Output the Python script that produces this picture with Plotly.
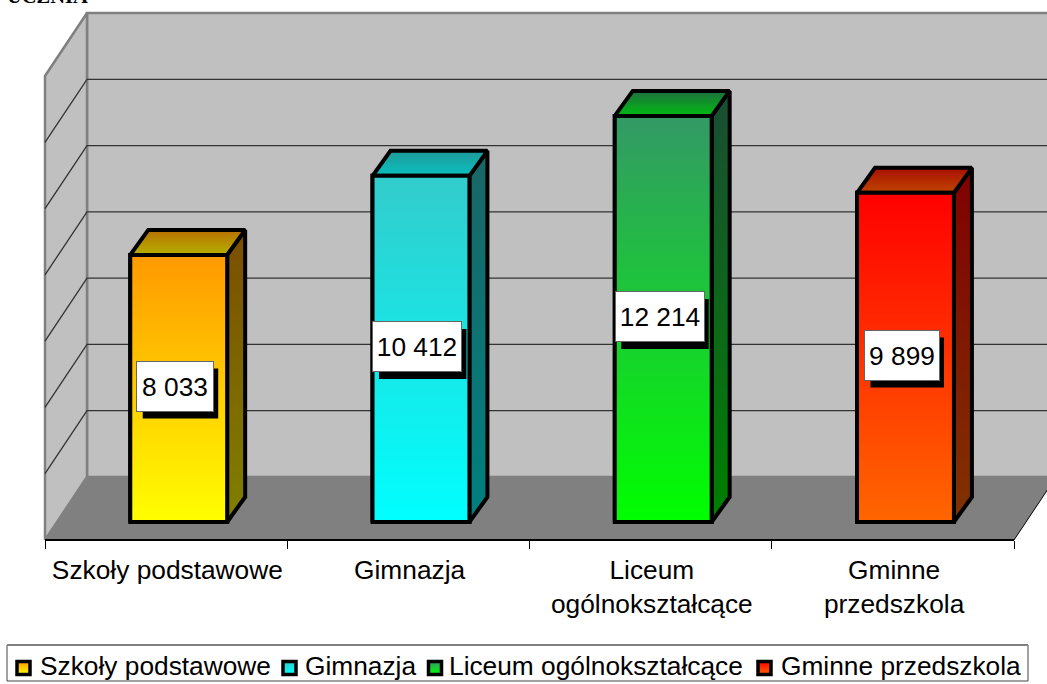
import plotly.graph_objects as go

# ---- data ----
categories = ["Szkoły podstawowe", "Gimnazja", "Liceum ogólnokształcące", "Gminne przedszkola"]
tick_labels = ["Szkoły podstawowe", "Gimnazja", "Liceum<br>ogólnokształcące", "Gminne<br>przedszkola"]
values = [8033, 10412, 12214, 9899]
value_labels = ["8 033", "10 412", "12 214", "9 899"]
grid_values = [2000, 4000, 6000, 8000, 10000, 12000]
axis_max = 14000
title_fragment = "UCZNIA"

# ---- colours ----
front_top = ["#ff9900", "#33cccc", "#339966", "#ff0000"]
front_bottom = ["#ffff00", "#00ffff", "#00ff00", "#ff6600"]
side_top = ["#7a4e00", "#1a6666", "#1a4d33", "#800000"]
side_bottom = ["#808000", "#008080", "#008000", "#803300"]
cap_back = ["#b97000", "#1f9a9a", "#1f6f3f", "#a81000"]
cap_front = ["#b4b000", "#0abfbf", "#00bb11", "#c04500"]
mid_colour = ["#ffcc00", "#1ae6e6", "#1acc33", "#ff3300"]
swatch_x = [23.5, 289.5, 435, 764.5]
legend_text_x = [38, 303, 447, 778.5]
label_box_width = [76, 88, 88, 74]

# ---- layout geometry ----
W, H = 1047, 684
X0, UNIT = 45.0, 242.25       # px of category 0, px per category
WALL_Y0, WALL_K = 477.0, 464.0 / axis_max
BAR_Y0, BAR_K = 522.0, 0.03325
BAR_CENTRE, BAR_WIDTH = 0.552, 0.40
DEPTH_X, DEPTH_V = 18.0 / UNIT, 25.0 / BAR_K
WALL_DX, WALL_DV = 42.0 / UNIT, 63.0 / WALL_K
x_left, x_right = 0.0, 4.0
x_back_left, x_back_right = x_left + WALL_DX, x_right + WALL_DX
GREY, LIGHT, DARK = "#808080", "#c0c0c0", "#808080"
FONT = "Liberation Sans"
FS = 26.3


def vgrad(colour_low, colour_high, lo, hi):
    return dict(type="vertical", start=lo, stop=hi,
                colorscale=[[0, colour_low], [1, colour_high]])


fig = go.Figure()
wall = dict(xaxis="x", yaxis="y", mode="lines", hoverinfo="skip", showlegend=False)

# back wall
fig.add_trace(go.Scatter(
    x=[x_back_left, x_back_right, x_back_right, x_back_left, x_back_left],
    y=[0, 0, axis_max, axis_max, 0], fill="toself", fillcolor=LIGHT,
    line=dict(color=GREY, width=2.5), **wall))
# side wall
fig.add_trace(go.Scatter(
    x=[x_left, x_back_left, x_back_left, x_left, x_left],
    y=[-WALL_DV, 0, axis_max, axis_max - WALL_DV, -WALL_DV], fill="toself", fillcolor=LIGHT,
    line=dict(color=GREY, width=2.5), **wall))
# floor
fig.add_trace(go.Scatter(
    x=[x_left, x_back_left, x_back_right, x_right, x_left],
    y=[-WALL_DV, 0, 0, -WALL_DV, -WALL_DV], fill="toself", fillcolor=DARK,
    line=dict(color=DARK, width=0), **wall))
fig.add_trace(go.Scatter(
    x=[x_right, x_back_right], y=[-WALL_DV, 0],
    line=dict(color="#000000", width=1), **wall))
# gridlines
for g in grid_values:
    fig.add_trace(go.Scatter(
        x=[x_left, x_back_left, x_back_right],
        y=[g - WALL_DV, g, g], line=dict(color="#333333", width=1.3), **wall))

# bars
bar_x = [i + BAR_CENTRE for i in range(len(values))]
fig.add_trace(go.Bar(
    x=bar_x, y=values, width=BAR_WIDTH, xaxis="x2", yaxis="y2",
    marker=dict(color=mid_colour, line=dict(color="#000000", width=4)),
    customdata=categories, hovertemplate="%{customdata}: %{y}<extra></extra>", showlegend=False))

face = dict(xaxis="x2", yaxis="y2", mode="lines", fill="toself", hoverinfo="skip",
            showlegend=False, line=dict(color="#000000", width=4))
for i, v in enumerate(values):
    l, r = bar_x[i] - BAR_WIDTH / 2, bar_x[i] + BAR_WIDTH / 2
    # side
    fig.add_trace(go.Scatter(
        x=[r, r + DEPTH_X, r + DEPTH_X, r, r],
        y=[0, DEPTH_V, v + DEPTH_V, v, 0],
        fillgradient=vgrad(side_bottom[i], side_top[i], 0, v + DEPTH_V), **face))
    # top
    fig.add_trace(go.Scatter(
        x=[l, l + DEPTH_X, r + DEPTH_X, r, l],
        y=[v, v + DEPTH_V, v + DEPTH_V, v, v],
        fillgradient=vgrad(cap_front[i], cap_back[i], v, v + DEPTH_V), **face))
    # front
    fig.add_trace(go.Scatter(
        x=[l, r, r, l, l], y=[0, 0, v, v, 0],
        fillgradient=vgrad(front_bottom[i], front_top[i], 0, v), **face))

# legend swatches (drawn on the pixel-aligned hidden axes)
LEG_Y = 666
SWATCH_Y = 668
for i in range(len(values)):
    fig.add_trace(go.Scatter(
        x=[(swatch_x[i] - X0) / UNIT], y=[(WALL_Y0 - SWATCH_Y) / WALL_K],
        xaxis="x", yaxis="y", mode="markers", hoverinfo="skip", showlegend=False,
        cliponaxis=False,
        marker=dict(symbol="square", size=13, color=front_top[i],
                    gradient=dict(type="vertical", color=front_bottom[i]),
                    line=dict(color="#000000", width=3.5))))

annotations = []
shapes = [
    dict(type="rect", xref="paper", yref="paper", layer="below",
         x0=7 / W, x1=1028 / W, y0=1 - 681 / H, y1=1 - 645 / H,
         fillcolor="#ffffff", line=dict(color="#444444", width=1)),
    dict(type="line", xref="paper", yref="paper", layer="below",
         x0=7 / W, x1=1028 / W, y0=1 - 645 / H, y1=1 - 645 / H,
         line=dict(color="#808080", width=2)),
]
# value labels: pixel-sized shadow anchored on the data, then box with text
for i, v in enumerate(values):
    w = label_box_width[i]
    shapes.append(dict(type="rect", layer="above", xref="x2", yref="y2",
                       xsizemode="pixel", ysizemode="pixel", xanchor=bar_x[i], yanchor=v / 2,
                       x0=-w / 2 + 2, x1=w / 2 + 1.5, y0=-30, y1=20,
                       fillcolor="#000000", line=dict(width=0)))
    annotations.append(dict(text=value_labels[i], x=bar_x[i], y=v / 2, xref="x2", yref="y2",
                            showarrow=False, width=w, height=49, align="center", valign="middle",
                            bgcolor="#ffffff", bordercolor="#666666", borderwidth=1, borderpad=0,
                            xshift=-3.5, yshift=2,
                            font=dict(family=FONT, size=FS, color="#000000")))
# legend text
for i, c in enumerate(categories):
    annotations.append(dict(text=c, x=legend_text_x[i] / W, y=1 - LEG_Y / H, xref="paper", yref="paper",
                            xanchor="left", yanchor="middle", showarrow=False,
                            font=dict(family=FONT, size=FS, color="#000000")))
# clipped title fragment
annotations.append(dict(text="<b>%s</b>" % title_fragment, x=6 / W, y=1 - 8 / H, xref="paper", yref="paper",
                        xanchor="left", yanchor="bottom", showarrow=False, borderpad=0,
                        font=dict(family="Liberation Serif", size=20.5, color="#000000")))

fig.update_layout(
    width=W, height=H, margin=dict(l=0, r=0, t=0, b=0, pad=0),
    paper_bgcolor="#ffffff", plot_bgcolor="rgba(0,0,0,0)", showlegend=False,
    annotations=annotations, shapes=shapes,
    xaxis=dict(domain=[0, 1], range=[-X0 / UNIT, (W - X0) / UNIT], visible=False, fixedrange=True),
    yaxis=dict(domain=[0, 1], range=[(WALL_Y0 - H) / WALL_K, WALL_Y0 / WALL_K], visible=False, fixedrange=True),
    xaxis2=dict(domain=[X0 / W, 1014.0 / W], range=[0, 4], anchor="free", position=(H - 540.0) / H,
                side="bottom", tickmode="array", tickvals=[0.505, 1.505, 2.505, 3.505], ticktext=tick_labels,
                ticks="", ticklen=0, showgrid=False, zeroline=False, showline=True,
                linecolor="#000000", linewidth=2, fixedrange=True, ticklabelstandoff=6,
                tickfont=dict(family=FONT, size=FS, color="#000000"),
                minor=dict(tickmode="array", tickvals=[0, 1, 2, 3, 4], ticks="outside", ticklen=8,
                           tickcolor="#000000", tickwidth=1, showgrid=False)),
    yaxis2=dict(domain=[0, 1], range=[(BAR_Y0 - H) / BAR_K, BAR_Y0 / BAR_K], anchor="x2",
                visible=False, fixedrange=True),
)

fig.write_html("out.html", config={"displayModeBar": False},
               post_script="document.body.style.margin='0';document.body.style.overflow='hidden';")
